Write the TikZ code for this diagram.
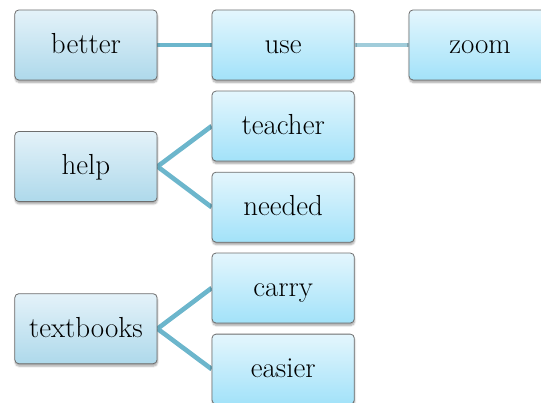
\documentclass[tikz,border=0pt]{standalone}
\usepackage{fontspec}
\usetikzlibrary{shadows.blur}
\usetikzlibrary{backgrounds}

\definecolor{linkblue}{RGB}{108,182,204}
\definecolor{linklight}{RGB}{160,204,218}
\definecolor{boxtop}{RGB}{228,242,249}
\definecolor{boxbottom}{RGB}{174,217,235}
\definecolor{cyantop}{RGB}{228,246,253}
\definecolor{cyanbottom}{RGB}{162,226,249}
\definecolor{boxedge}{RGB}{110,110,110}

\begin{document}
\begin{tikzpicture}[
    word/.style={draw=boxedge, line width=0.8pt, rounded corners=4pt,
        minimum width=5cm, minimum height=2.46cm, inner sep=0pt,
        text height=24pt, text depth=7pt,
        top color=boxtop, bottom color=boxbottom,
        blur shadow={shadow xshift=0.4pt, shadow yshift=-2.5pt,
            shadow blur steps=6, shadow opacity=35},
        font=\fontsize{29}{34}\selectfont},
    leaf/.style={word, top color=cyantop, bottom color=cyanbottom},
    link/.style={draw=linkblue, line width=4.6pt}
]
    \useasboundingbox (0,0) rectangle (19.01,-14.13);

    % left column
    \node[word] (better) at (3.02,-1.58)  {better};
    \node[word] (help) at (3.02,-5.85)  {help};
    \node[word] (textbooks) at (3.02,-11.55)  {textbooks};

    % right columns
    \node[leaf] (use) at (9.95,-1.58)  {use};
    \node[leaf] (zoom) at (16.87,-1.58)  {zoom};
    \node[leaf] (teacher) at (9.95,-4.43)  {teacher};
    \node[leaf] (needed) at (9.95,-7.28)  {needed};
    \node[leaf] (carry) at (9.95,-10.12)  {carry};
    \node[leaf] (easier) at (9.95,-12.97)  {easier};

    % connectors go behind the boxes
    \begin{scope}[on background layer]
        \draw[link] (better) -- (use);
        \draw[link, draw=linklight] (use) -- (zoom);
        \draw[link] (help.east) -- (teacher.west);
        \draw[link] (help.east) -- (needed.west);
        \draw[link] (textbooks.east) -- (carry.west);
        \draw[link] (textbooks.east) -- (easier.west);
    \end{scope}
\end{tikzpicture}
\end{document}
